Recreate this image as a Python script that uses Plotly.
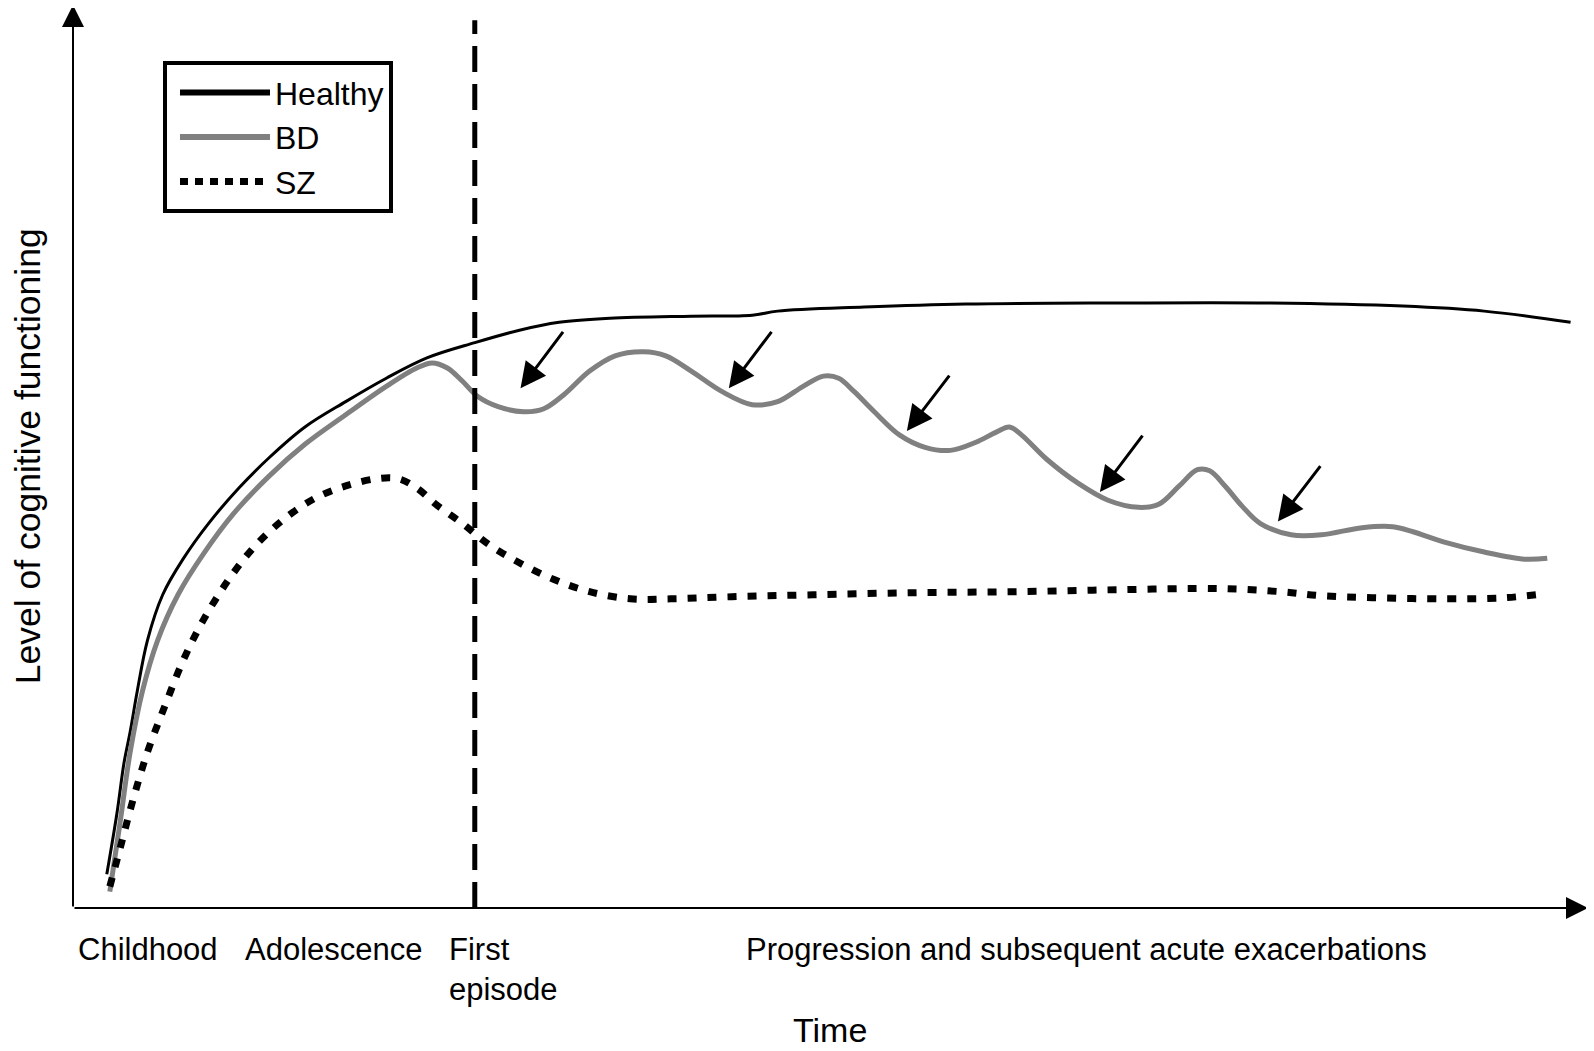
import plotly.graph_objects as go

# ---- data (time units 0-100, cognitive level 0-100) ----
healthy_x = [2.23, 2.90, 3.37, 3.77, 4.24, 4.91, 5.92, 7.26, 8.94, 10.95, 12.96, 15.31, 18.0, 20.68,
             23.36, 26.52, 29.40, 32.09, 35.44, 40.81, 44.83, 46.51, 52.22, 58.93, 68.99, 79.06,
             87.78, 93.15, 98.85]
healthy_y = [3.73, 10.49, 16.11, 19.49, 24.0, 29.62, 34.69, 38.63, 42.57, 46.51, 49.89, 53.27, 56.08,
             58.67, 60.92, 62.61, 63.96, 64.86, 65.31, 65.54, 65.65, 66.10, 66.55, 66.89, 67.0, 67.0,
             66.66, 66.10, 64.86]

bd_x = [2.43, 3.10, 3.77, 4.58, 5.58, 6.93, 8.60, 10.61, 12.96, 15.31, 18.0, 20.68, 22.69, 23.70,
        24.71, 25.71, 26.72, 28.06, 29.74, 31.08, 32.42, 34.10, 35.78, 37.66, 39.13, 40.81, 42.82,
        44.83, 46.51, 48.19, 49.53, 50.54, 51.55, 52.89, 54.57, 56.24, 57.92, 59.60, 60.94, 61.81,
        62.62, 64.29, 66.31, 68.32, 70.33, 71.67, 73.02, 74.22, 75.03, 76.04, 77.18, 78.38, 80.40,
        82.41, 85.09, 87.11, 88.45, 90.46, 93.15, 95.83, 97.31]
bd_y = [1.82, 9.36, 17.24, 24.0, 29.62, 34.69, 39.19, 43.70, 47.86, 51.35, 54.62, 57.77, 59.80, 60.36,
        59.80, 58.33, 56.64, 55.52, 54.96, 55.29, 56.87, 59.46, 61.15, 61.60, 61.15, 59.46, 57.21,
        55.74, 56.08, 57.77, 58.90, 58.67, 57.21, 54.96, 52.37, 51.02, 50.68, 51.58, 52.70, 53.27,
        52.37, 49.67, 47.08, 45.16, 44.37, 44.71, 46.74, 48.54, 48.42, 46.74, 44.48, 42.57, 41.33,
        41.33, 42.12, 42.23, 41.67, 40.54, 39.42, 38.63, 38.74]

sz_x = [2.43, 3.10, 3.90, 4.91, 6.05, 7.26, 8.60, 10.28, 11.96, 13.97, 15.98, 18.0, 20.01, 21.48,
        22.69, 24.03, 25.71, 27.39, 29.40, 31.75, 34.10, 36.78, 39.47, 43.49, 48.86, 55.57, 62.28,
        68.99, 75.70, 79.73, 82.41, 85.77, 90.46, 94.49, 97.17]
sz_y = [2.38, 6.55, 11.61, 17.24, 22.31, 27.37, 31.88, 36.38, 39.98, 43.13, 45.38, 46.74, 47.53, 47.53,
        46.51, 44.60, 42.57, 40.32, 38.29, 36.38, 35.03, 34.24, 34.24, 34.47, 34.69, 34.92, 35.03,
        35.25, 35.37, 35.03, 34.58, 34.36, 34.24, 34.36, 34.81]

# episode arrows: tail -> head
arrow_tail_x = [32.42, 46.18, 57.92, 70.67, 82.41]
arrow_tail_y = [63.96, 63.96, 59.12, 52.48, 49.10]
arrow_head_x = [29.54, 43.29, 55.04, 67.78, 79.53]
arrow_head_y = [57.55, 57.55, 52.82, 46.06, 42.80]

first_episode_x = 26.52

stage_labels = ["Childhood", "Adolescence", "First<br>episode", "Progression and subsequent acute exacerbations"]
stage_x = [0.2, 11.2, 24.7, 44.3]

series_names = ["Healthy", "BD", "SZ"]

GREY = "#808080"
FONT = "Liberation Sans, Arial, sans-serif"

fig = go.Figure()

fig.add_trace(go.Scatter(x=healthy_x, y=healthy_y, mode="lines", showlegend=False,
                         line=dict(color="black", width=3, shape="spline", smoothing=1.0)))
fig.add_trace(go.Scatter(x=bd_x, y=bd_y, mode="lines", showlegend=False,
                         line=dict(color=GREY, width=5, shape="spline", smoothing=1.0)))
fig.add_trace(go.Scatter(x=sz_x, y=sz_y, mode="lines", showlegend=False,
                         line=dict(color="black", width=7, dash="9px,11px", shape="spline", smoothing=1.0)))

# first episode vertical dashed line
fig.add_trace(go.Scatter(x=[first_episode_x, first_episode_x], y=[0, 98.3], mode="lines", showlegend=False,
                         line=dict(color="black", width=5, dash="26px,12px")))

# legend entries
fig.add_trace(go.Scatter(x=[None], y=[None], mode="lines", name=series_names[0],
                         line=dict(color="black", width=6)))
fig.add_trace(go.Scatter(x=[None], y=[None], mode="lines", name=series_names[1],
                         line=dict(color=GREY, width=6)))
fig.add_trace(go.Scatter(x=[None], y=[None], mode="lines", name=series_names[2],
                         line=dict(color="black", width=7, dash="8px,7px")))

annotations = []
# axes with arrowheads
annotations.append(dict(x=0, y=100, ax=0, ay=0, xref="x", yref="y", axref="x", ayref="y", text="",
                        showarrow=True, arrowhead=2, arrowsize=2.2, arrowwidth=2, arrowcolor="black"))
annotations.append(dict(x=100, y=0, ax=0, ay=0, xref="x", yref="y", axref="x", ayref="y", text="",
                        showarrow=True, arrowhead=2, arrowsize=2.2, arrowwidth=2, arrowcolor="black"))
# episode arrows
for tx, ty, hx, hy in zip(arrow_tail_x, arrow_tail_y, arrow_head_x, arrow_head_y):
    annotations.append(dict(x=hx, y=hy, ax=tx, ay=ty, xref="x", yref="y", axref="x", ayref="y", text="",
                            showarrow=True, arrowhead=2, arrowsize=1.7, arrowwidth=3, arrowcolor="black"))
# stage labels
for lab, sx in zip(stage_labels, stage_x):
    annotations.append(dict(x=sx, y=0, xref="x", yref="y", yshift=-22, text=lab, showarrow=False,
                            xanchor="left", yanchor="top", align="left",
                            font=dict(family=FONT, size=31, color="black")))
annotations.append(dict(x=47.4, y=0, xref="x", yref="y", yshift=-122, text="Time", showarrow=False,
                        xanchor="left", yanchor="middle", font=dict(family=FONT, size=34, color="black")))
annotations.append(dict(x=-0.0297, y=0.502, xref="paper", yref="paper", text="Level of cognitive functioning",
                        textangle=-90, showarrow=False, xanchor="center", yanchor="middle", borderpad=0,
                        font=dict(family=FONT, size=35.5, color="black")))

# page body adds an 8px offset; figure sized to fit the window
fig.update_layout(
    width=1586, height=1043,
    margin=dict(l=65, r=6, t=0, b=143),
    plot_bgcolor="white", paper_bgcolor="white",
    xaxis=dict(range=[0, 100], showgrid=False, zeroline=False, showticklabels=False, ticks="", showline=False),
    yaxis=dict(range=[0, 99.67], showgrid=False, zeroline=False, showticklabels=False, ticks="", showline=False),
    legend=dict(x=0.0594, y=0.941, xanchor="left", yanchor="top", bordercolor="black", borderwidth=4,
                bgcolor="white", itemwidth=90, indentation=8, entrywidth=145, entrywidthmode="pixels",
                font=dict(family=FONT, size=32, color="black")),
    annotations=annotations,
)

fig.write_html("out.html")
